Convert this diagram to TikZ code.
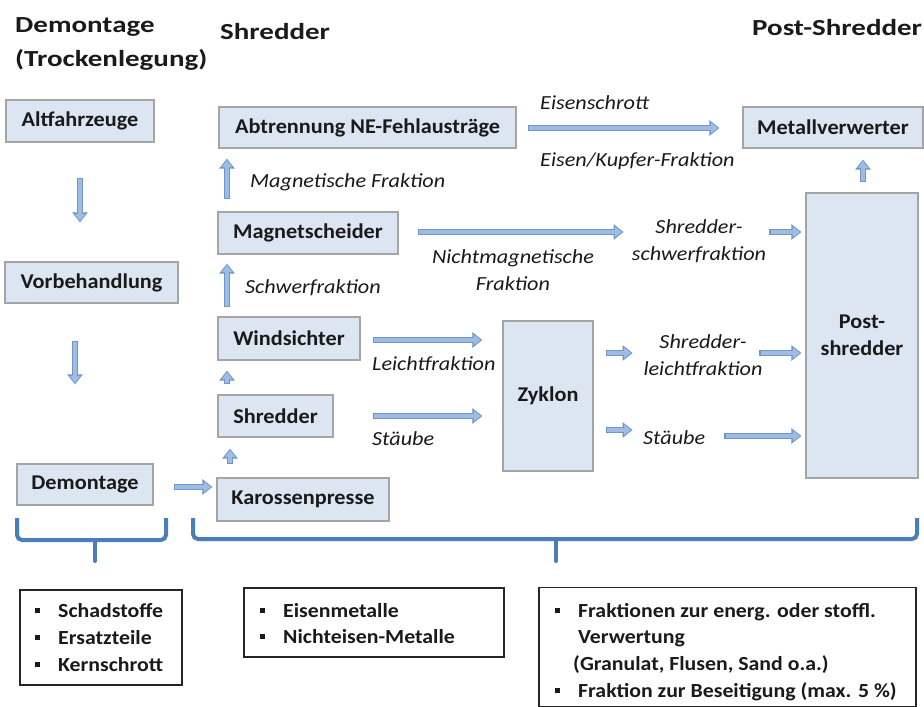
\documentclass[tikz,border=0pt]{standalone}
\usepackage{fontspec}
\setmainfont{Carlito}
\newfontfamily\headfont[FakeStretch=1.26]{Carlito}
\newfontfamily\boxfont[FakeStretch=1.06]{Carlito}
\newfontfamily\labfont[FakeStretch=1.11]{Carlito}
\newfontfamily\itemfont[FakeStretch=1.09]{Carlito}
\usetikzlibrary{arrows.meta,calc}
\definecolor{boxfill}{RGB}{220,230,242}
\definecolor{boxline}{RGB}{165,165,165}
\definecolor{arrowc}{RGB}{158,189,228}
\definecolor{arrowdark}{RGB}{112,150,200}
\definecolor{bracec}{RGB}{74,126,187}
\definecolor{txt}{RGB}{26,26,26}
\newcommand{\bul}{\makebox[23pt][l]{\rule[4pt]{5pt}{5pt}}}
\begin{document}
\begin{tikzpicture}[x=1pt,y=-1pt,
 box/.style={draw=boxline, line width=1.2pt, fill=boxfill, inner sep=0pt, align=center, font=\boxfont\fontsize{21}{27}\selectfont\bfseries, text=txt},
 lab/.style={font=\labfont\fontsize{20}{27}\selectfont\itshape, text=txt, inner sep=0pt, align=center},
 head/.style={font=\headfont\fontsize{23}{26}\selectfont\bfseries, text=txt, inner sep=0pt, anchor=base west},
 item/.style={font=\itemfont\fontsize{20}{22}\selectfont\bfseries, text=txt, inner sep=0pt, anchor=base west},
 listbox/.style={draw=black!85, line width=1.5pt, inner sep=0pt},
 flow/.style={draw=arrowdark, line width=6.5pt, -{Triangle[length=10pt,width=15pt]},
   postaction={draw=arrowc, line width=3.6pt, shorten >=1.6pt, shorten <=1.4pt, -{Triangle[length=7pt,width=10.5pt]}}},
 brace/.style={draw=bracec, line width=4pt, rounded corners=5pt}]
\fill[white] (0,0) rectangle (924,707);
\useasboundingbox (0,0) rectangle (924,707);

% headings
\node[head] (h1) at (15,32) {Demontage};
\node[head] (h1b) at (15,66) {(Trockenlegung)};
\node[head] (h2) at (220,39) {Shredder};
\node[head] (h3) at (752,35) {Post-Shredder};

% process boxes
\node[box, minimum width=148pt, minimum height=42pt] (alt) at (80,121) {Altfahrzeuge};
\node[box, minimum width=297pt, minimum height=41pt] (abt) at (367.5,127.5) {Abtrennung NE-Fehlausträge};
\node[box, minimum width=180pt, minimum height=41pt] (met) at (833,127.5) {Metallverwerter};
\node[box, minimum width=180pt, minimum height=42pt] (mag) at (308,233) {Magnetscheider};
\node[box, minimum width=173pt, minimum height=41pt] (vor) at (91.5,282.5) {Vorbehandlung};
\node[box, minimum width=142pt, minimum height=43pt] (wind) at (289,338.5) {Windsichter};
\node[box, minimum width=115pt, minimum height=42pt] (shr) at (275.5,416) {Shredder};
\node[box, minimum width=90pt, minimum height=150pt] (zyk) at (548,396) {Zyklon};
\node[box, minimum width=112pt, minimum height=285pt] (post) at (862,335.5) {Post-\\shredder};
\node[box, minimum width=136pt, minimum height=41pt] (dem) at (85,484.5) {Demontage};
\node[box, minimum width=172pt, minimum height=43pt] (kar) at (303,499.5) {Karossenpresse};

% labels
\node[lab, anchor=base west] (eisen) at (540,109) {Eisenschrott};
\node[lab, anchor=base west] (eiku) at (540,166) {Eisen/Kupfer-Fraktion};
\node[lab, anchor=base west] (magf) at (250,187) {Magnetische Fraktion};
\node[lab, anchor=base west] (schwf) at (245,293) {Schwerfraktion};
\node[lab] (nicht) at (513,270.5) {Nichtmagnetische\\Fraktion};
\node[lab] (schwer) at (699,241) {Shredder-\\schwerfraktion};
\node[lab] (leicht) at (703,355) {Shredder-\\leichtfraktion};
\node[lab, anchor=base west] (leif) at (372,370) {Leichtfraktion};
\node[lab, anchor=base west] (st1) at (372,445) {Stäube};
\node[lab, anchor=base west] (st2) at (643,444) {Stäube};

% arrows
\draw[flow] ($(alt.south)+(0,35)$) -- ($(vor.north)+(-11.5,-39)$);
\draw[flow] ($(vor.south)+(-16.5,37)$) -- ($(dem.north)+(-10,-79)$);
\draw[flow] ($(dem.east)+(20,2.5)$) -- ($(kar.west)+(-4,-12.5)$);
\draw[flow] ($(kar.north)+(-73,-13)$) -- ($(shr.south)+(-45.5,11)$);
\draw[flow] ($(shr.north)+(-48.5,-10)$) -- ($(wind.south)+(-62,10)$);
\draw[flow] ($(wind.north)+(-62,-9)$) -- ($(mag.south)+(-81,9)$);
\draw[flow] ($(mag.north)+(-81,-12)$) -- ($(abt.south)+(-140.5,10)$);
\draw[flow] ($(abt.east)+(11,0.5)$) -- ($(met.west)+(-23,0.5)$);
\draw[flow] ($(post.north)+(1,-10)$) -- ($(met.south)+(30,11)$);
\draw[flow] ($(mag.east)+(19,-1)$) -- ($(zyk.east |- mag.east)+(30,-1)$);
\draw[flow] ($(post.west |- mag.east)+(-36,-1)$) -- ($(post.west |- mag.east)+(-4,-1)$);
\draw[flow] ($(wind.east)+(12,1.5)$) -- ($(zyk.west)+(-20,-56)$);
\draw[flow] ($(shr.east)+(39,0)$) -- ($(zyk.west)+(-20,20)$);
\draw[flow] ($(zyk.east)+(12,-43)$) -- ($(zyk.east)+(39,-43)$);
\draw[flow] ($(zyk.east)+(12,34)$) -- ($(zyk.east)+(39,34)$);
\draw[flow] ($(post.west)+(-46,17.5)$) -- ($(post.west)+(-4,17.5)$);
\draw[flow] ($(post.west)+(-81,100.5)$) -- ($(post.west)+(-4,100.5)$);

% braces
\draw[brace] (17,518) -- (17,540) -- (166,540) -- (166,518);
\draw[brace, line cap=round] (95,540) -- (95,561);
\draw[brace] (193,518) -- (193,539) -- (917,539) -- (917,518);
\draw[brace, line cap=round] (556,539) -- (556,561);

% bottom list boxes
\node[listbox, minimum width=162pt, minimum height=95pt] (b1) at (101,637.5) {};
\node[listbox, minimum width=260pt, minimum height=69pt] (b2) at (374,622.5) {};
\node[listbox, minimum width=377pt, minimum height=119pt] (b3) at (727.5,647) {};

\node[item] (i11) at (35,617) {\bul Schadstoffe};
\node[item] (i12) at (35,644) {\bul Ersatzteile};
\node[item] (i13) at (35,671) {\bul Kernschrott};
\node[item] (i21) at (260,617) {\bul Eisenmetalle};
\node[item] (i22) at (260,643) {\bul Nichteisen-Metalle};
\node[item] (i31) at (555,617) {\bul Fraktionen zur energ. oder stoffl.};
\node[item] (i32) at (578,643) {Verwertung};
\node[item] (i33) at (573,670) {(Granulat, Flusen, Sand o.a.)};
\node[item] (i34) at (555,697) {\bul Fraktion zur Beseitigung (max. 5 \%)};
\end{tikzpicture}
\end{document}
